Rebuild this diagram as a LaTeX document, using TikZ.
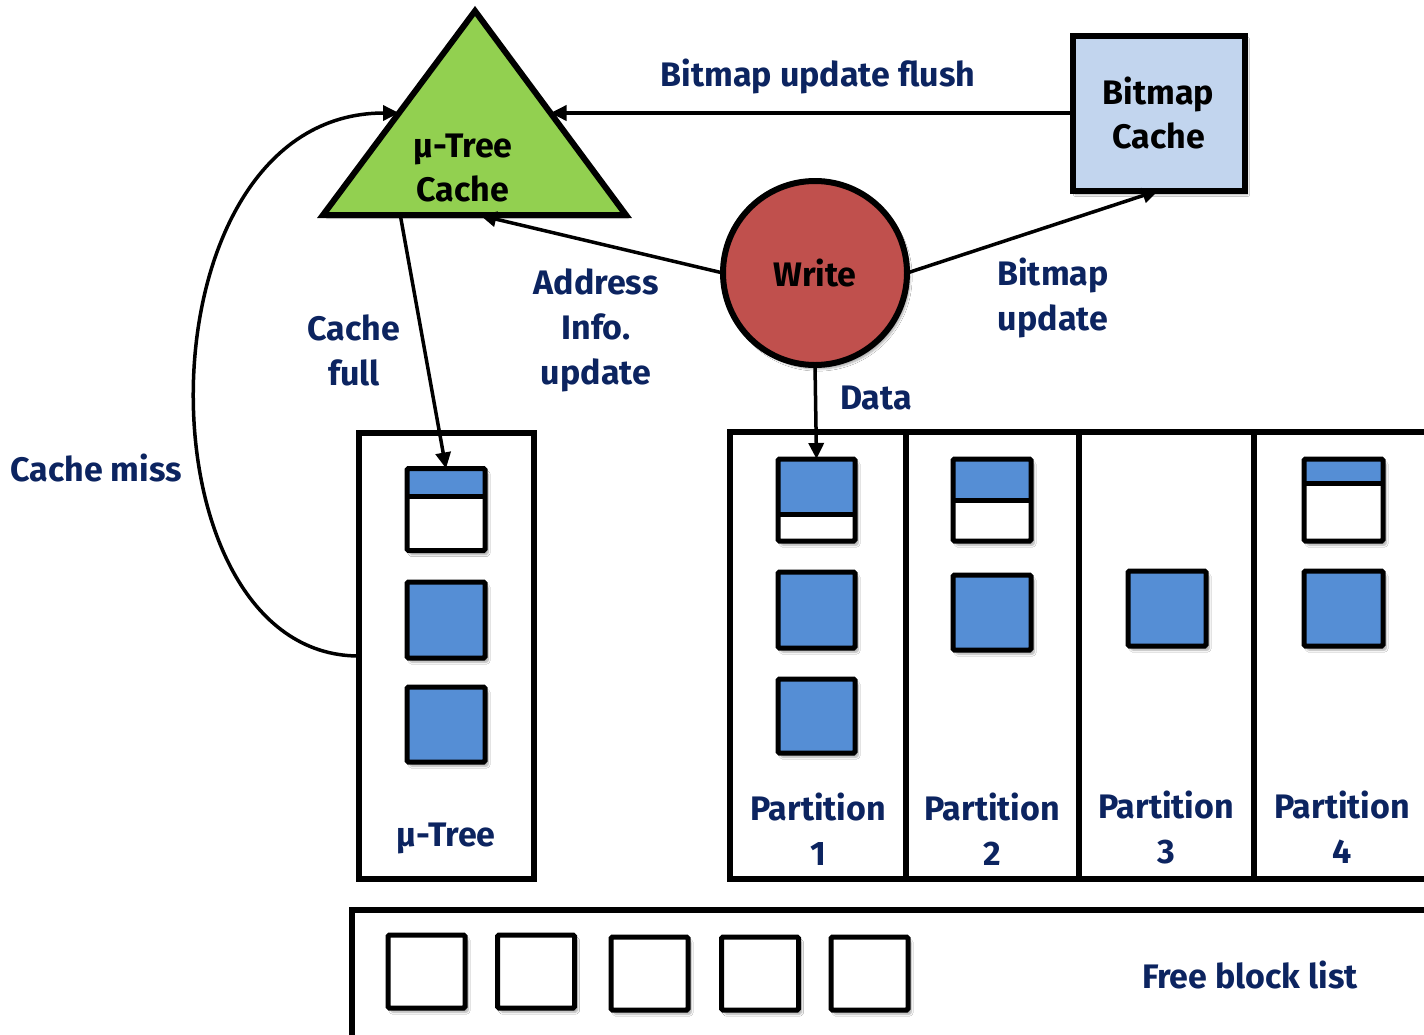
\documentclass[tikz,border=0pt]{standalone}
\usepackage{fontspec}
\setmainfont{Fira Sans}
\usetikzlibrary{arrows.meta,calc,shadows.blur}

\definecolor{navy}{RGB}{12,36,96}
\definecolor{leaf}{HTML}{92D050}
\definecolor{paleblue}{HTML}{C2D5EE}
\definecolor{brick}{HTML}{C0504D}
\definecolor{blockblue}{HTML}{558ED5}

\tikzset{
  lbl/.style={font=\bfseries\fontsize{34}{45}\selectfont, text=navy, align=center, inner sep=0pt},
  ntxt/.style={font=\bfseries\fontsize{34}{44}\selectfont, text=black, align=center},
  frame/.style={draw, line width=5.5pt},
  soft/.style={blur shadow={shadow xshift=3pt, shadow yshift=-4pt, shadow blur steps=6, shadow opacity=35}},
  blk/.style={draw, line width=5pt, fill=white, inner sep=0pt, outer sep=0pt,
    rounded corners=1.5pt, soft},
  full/.style={blk, fill=blockblue},
  half/.style={blk, path picture={
      \fill[blockblue] (path picture bounding box.north west) rectangle
        ([yshift=-#1]path picture bounding box.north east);
      \draw[line width=5pt] ([yshift=-#1]path picture bounding box.north west) --
        ([yshift=-#1]path picture bounding box.north east);}},
  arr/.style={line width=3.5pt, -{Triangle[length=16pt,width=15pt]}},
}

\begin{document}
\begin{tikzpicture}[x=1pt, y=-1pt]
\useasboundingbox (0,0) rectangle (1424,1034);
\fill[white] (0,0) rectangle (1424,1034);

% mu-tree cache triangle
\coordinate (apex) at (475,11);
\coordinate (tl) at (323,215);
\coordinate (tr) at (626,215);
\fill[black, opacity=0.18] ([shift={(3,4)}]apex) -- ([shift={(3,4)}]tr) -- ([shift={(3,4)}]tl) -- cycle;
\draw[line width=6pt, fill=leaf, line join=miter] (apex) -- (tr) -- (tl) -- cycle;
\node[ntxt] (tri) at (463,168) {µ-Tree\\Cache};
\coordinate (triR) at ($(apex)!0.5!(tr)$);
\coordinate (triL) at ($(apex)!0.5!(tl)$);
\coordinate (baseA) at ($(tl)!0.513!(tr)$);
\coordinate (baseB) at ($(tl)!0.255!(tr)$);

% bitmap cache and write
\node[frame, line width=6pt, fill=paleblue, minimum width=172pt, minimum height=155pt, outer sep=0pt, soft, ntxt] (bc) at (1158.5,113) {Bitmap\\Cache};
\node[frame, line width=6pt, circle, fill=brick, minimum size=184pt, inner sep=0pt, outer sep=0pt, soft, ntxt] (wr) at (815,273) {Write};

% mu-tree store
\node[frame, minimum width=175pt, minimum height=446pt, outer sep=0pt] (mtbox) at (446.5,656) {};
\node[half=28pt, minimum width=78pt, minimum height=82pt] (mt1) at (446,509.5) {};
\node[full, minimum width=78pt, minimum height=76pt] (mt2) at (446,620) {};
\node[full, minimum width=78pt, minimum height=75pt] (mt3) at (446,724.5) {};
\node[lbl] (mtlbl) at (446,838) {µ-Tree};

% partitions
\draw[line width=5.5pt] (1430,432) -- (730,432) -- (730,879) -- (1430,879);
\foreach \px in {906,1079,1254} \draw[line width=5.5pt] (\px,432) -- (\px,879);
\node[half=55pt, minimum width=77pt, minimum height=82pt] (p1a) at (816.5,500) {};
\node[full, minimum width=77pt, minimum height=76pt] (p1b) at (816.5,610) {};
\node[full, minimum width=77pt, minimum height=74pt] (p1c) at (816.5,716) {};
\node[half=41pt, minimum width=78pt, minimum height=82pt] (p2a) at (992,500) {};
\node[full, minimum width=78pt, minimum height=75pt] (p2b) at (992,612.5) {};
\node[full, minimum width=78pt, minimum height=75pt] (p3b) at (1167,608.5) {};
\node[half=24pt, minimum width=79pt, minimum height=82pt] (p4a) at (1343.5,500) {};
\node[full, minimum width=79pt, minimum height=75pt] (p4b) at (1343.5,608.5) {};
\node[lbl] (pl1) at (818,829) {Partition\\1};
\node[lbl] (pl2) at (992,829) {Partition\\2};
\node[lbl] (pl3) at (1166,827) {Partition\\3};
\node[lbl] (pl4) at (1342,827) {Partition\\4};

% free block list
\draw[line width=5.5pt] (1430,910) -- (352,910) -- (352,1040);
\node[blk, minimum width=77pt, minimum height=73pt] (f1) at (426.5,971.5) {};
\node[blk, minimum width=77pt, minimum height=73pt] (f2) at (536,971.5) {};
\node[blk, minimum width=77pt, minimum height=73pt] (f3) at (649.5,973.5) {};
\node[blk, minimum width=77pt, minimum height=73pt] (f4) at (760,973.5) {};
\node[blk, minimum width=77pt, minimum height=73pt] (f5) at (869.5,973.5) {};
\node[lbl] (fbl) at (1250,975) {Free block list};

% connectors
\draw[arr] (bc.west) -- (triR);
\draw[arr, shorten >=2pt] (wr.west) -- (baseA);
\draw[arr] (wr.east) -- (bc.south);
\draw[arr] (wr.south) -- (p1a.north);
\draw[arr] (baseB) -- (mt1.north);
\draw[arr] (mtbox.west) .. controls (134,656) and (134,113) .. (triL);

% connector labels
\node[lbl] at (818,76) {Bitmap update flush};
\node[lbl] at (596,330) {Address\\Info.\\update};
\node[lbl] at (354,350) {Cache\\full};
\node[lbl] at (1053,298) {Bitmap\\update};
\node[lbl] at (876,398) {Data};
\node[lbl] at (96,468) {Cache miss};
\end{tikzpicture}
\end{document}
